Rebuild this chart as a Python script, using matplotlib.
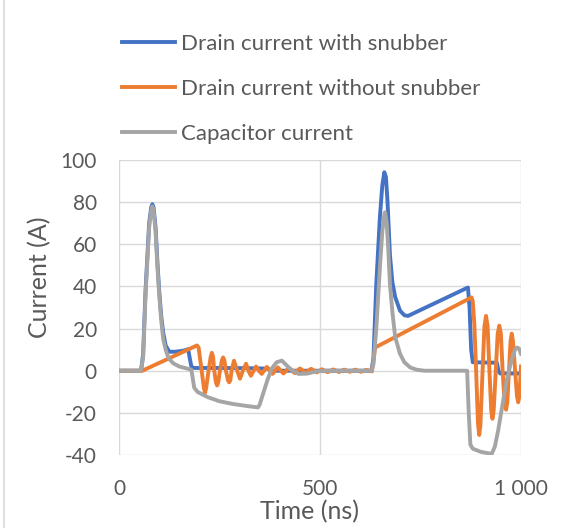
import matplotlib
matplotlib.use("Agg")
import matplotlib.pyplot as plt
from matplotlib.lines import Line2D

plt.rcParams['font.family'] = ['Lato', 'DejaVu Sans']
plt.rcParams['axes.unicode_minus'] = False

# ---------------- data ----------------
series_names = ["Drain current with snubber", "Drain current without snubber", "Capacitor current"]

blue_t = [0, 55, 60, 66, 75, 80, 83, 86, 91, 96, 100, 105, 110, 116, 125, 140, 160, 172, 176, 180,
          186, 250, 320, 370, 380, 628, 633, 640, 649, 655, 660, 664, 668, 674, 680, 687, 699, 710,
          719, 868, 872, 876, 880, 940, 944, 948, 1000]
blue_y = [0, 0, 8, 38, 70, 77.5, 79, 77.5, 68, 50, 38, 26, 18, 12, 9, 9, 9.5, 10.2, 6, 2,
          1.3, 1.3, 1.2, 1, 0, 0, 6, 41, 73, 88, 94.2, 92, 80, 55, 42, 35, 28.5, 26.3,
          26, 39.5, 30, 10, 4, 3.8, 0, -1.3, -1.3]

orange_t = [0, 58, 194, 198, 205, 211, 214, 217, 222, 228, 231, 234, 237, 241, 244, 247, 251, 256,
            259, 262, 266, 271, 274, 277, 280, 286, 294, 301, 308, 316, 322, 328, 335, 341, 348,
            355, 361, 368, 382, 395, 409, 423, 437, 450, 464, 478, 492, 505, 519, 533, 547, 560,
            574, 588, 602, 615, 629, 633, 637, 877, 880, 884, 888, 893, 896, 899, 904, 909, 913,
            917, 921, 926, 929, 932, 937, 942, 946, 950, 954, 959, 963, 966, 970, 974, 977, 980,
            985, 990, 993, 996, 1000]
orange_y = [0, 0, 12, 11, 1, -8, -10.5, -8, -1, 6.5, 8.5, 6.5, 0, -5.5, -7, -5.5, 0, 5,
            6.3, 5, 0, -4.5, -5.5, -4.5, 0, 4.75, 0, -3.8, 0, 3.3, 0, -2.4, 0, 2.0, 0,
            -1.5, 0, 1.8, -1.5, 1.6, -1.3, 1.3, -1.1, 1.1, -0.9, 0.9, -0.8, 0.7, -0.7, 0.6, -0.6, 0.5,
            -0.5, 0.5, -0.5, 0.4, -0.3, 5, 11, 34.8, 33, 22, 2, -25, -30.5, -26, -2, 21, 26,
            21, 2, -19, -22.8, -19, -1, 17.5, 21.4, 17.5, 1, -15, -18.5, -15, 0, 14, 17.6, 14,
            1, -12, -15, -12, 2]

gray_t = [0, 54, 60, 66, 75, 80, 83, 86, 91, 96, 100, 105, 110, 116, 123, 135, 150, 170, 180, 183,
          187, 195, 220, 250, 284, 320, 346, 350, 360, 370, 380, 392, 405, 425, 446, 467, 492, 520,
          628, 633, 640, 649, 655, 660, 662, 666, 670, 674, 680, 687, 699, 710, 724, 740, 760, 866,
          870, 874, 880, 900, 927, 935, 943, 955, 964, 975, 985, 990, 995, 1000]
gray_y = [0, 0, 6, 36, 68, 76, 78, 76, 66, 48, 36, 24, 15, 10, 6, 3.5, 2, 1, 0.5, -3,
          -8, -10, -12.5, -14.5, -15.8, -16.8, -17.4, -16, -10, -4, 1, 4, 4.8, 1, -1.5, -1.4, -0.3, 0,
          0, 3, 20, 49, 66, 74, 75.2, 70, 57, 41, 28, 16, 8, 4, 1.6, 0.5, 0, 0,
          -20, -35, -37, -38.5, -39.5, -36, -28.5, -15, -5, 4, 10, 11, 10.5, 8]

x_ticks = [0, 500, 1000]
x_ticklabels = ["0", "500", "1 000"]
y_ticks = [-40, -20, 0, 20, 40, 60, 80, 100]

colors = ["#4472C4", "#ED7D31", "#A5A5A5"]
text_color = "#595959"
grid_color = "#D9D9D9"

# ---------------- figure ----------------
W, H = 577, 528
fig = plt.figure(figsize=(W / 100, H / 100), dpi=100)
ax = fig.add_axes([119 / W, 1 - 455 / H, (521 - 119) / W, (455 - 160) / H])

lw = 2.8
ax.plot(blue_t, blue_y, color=colors[0], lw=lw, solid_joinstyle='round', zorder=3)
ax.plot(orange_t, orange_y, color=colors[1], lw=lw, solid_joinstyle='round', zorder=4)
ax.plot(gray_t, gray_y, color=colors[2], lw=lw, solid_joinstyle='round', zorder=5)

ax.set_xlim(0, 1000)
ax.set_ylim(-40, 100)
ax.set_xticks(x_ticks)
ax.set_xticklabels(x_ticklabels)
ax.set_yticks(y_ticks)
for s in ax.spines.values():
    s.set_visible(False)
ax.grid(True, color=grid_color, lw=1.0, zorder=0)
ax.tick_params(length=0, labelsize=15, colors=text_color)
ax.tick_params(axis='y', pad=16)
ax.tick_params(axis='x', pad=17)

fig.text(310 / W, 1 - 512 / H, "Time (ns)", ha='center', va='center', fontsize=18, color=text_color)
fig.text(40 / W, 1 - 277 / H, "Current (A)", ha='center', va='center', rotation=90,
         fontsize=18, color=text_color)

handles = [Line2D([], [], color=c, lw=2.8) for c in colors]
fs = 16
fs_px = fs * 100 / 72
fig.legend(handles, series_names, loc='upper left', bbox_to_anchor=(122 / W, 1 - 33.5 / H),
           frameon=False, fontsize=fs, labelcolor=text_color, borderpad=0, borderaxespad=0,
           handlelength=53 / fs_px, handletextpad=6 / fs_px, labelspacing=1.13)

# chart-area border visible at the left edge
fig.add_artist(Line2D([4 / W, 4 / W], [0, 1], color=grid_color, lw=1.2, transform=fig.transFigure))

fig.savefig("out.png", dpi=100)
